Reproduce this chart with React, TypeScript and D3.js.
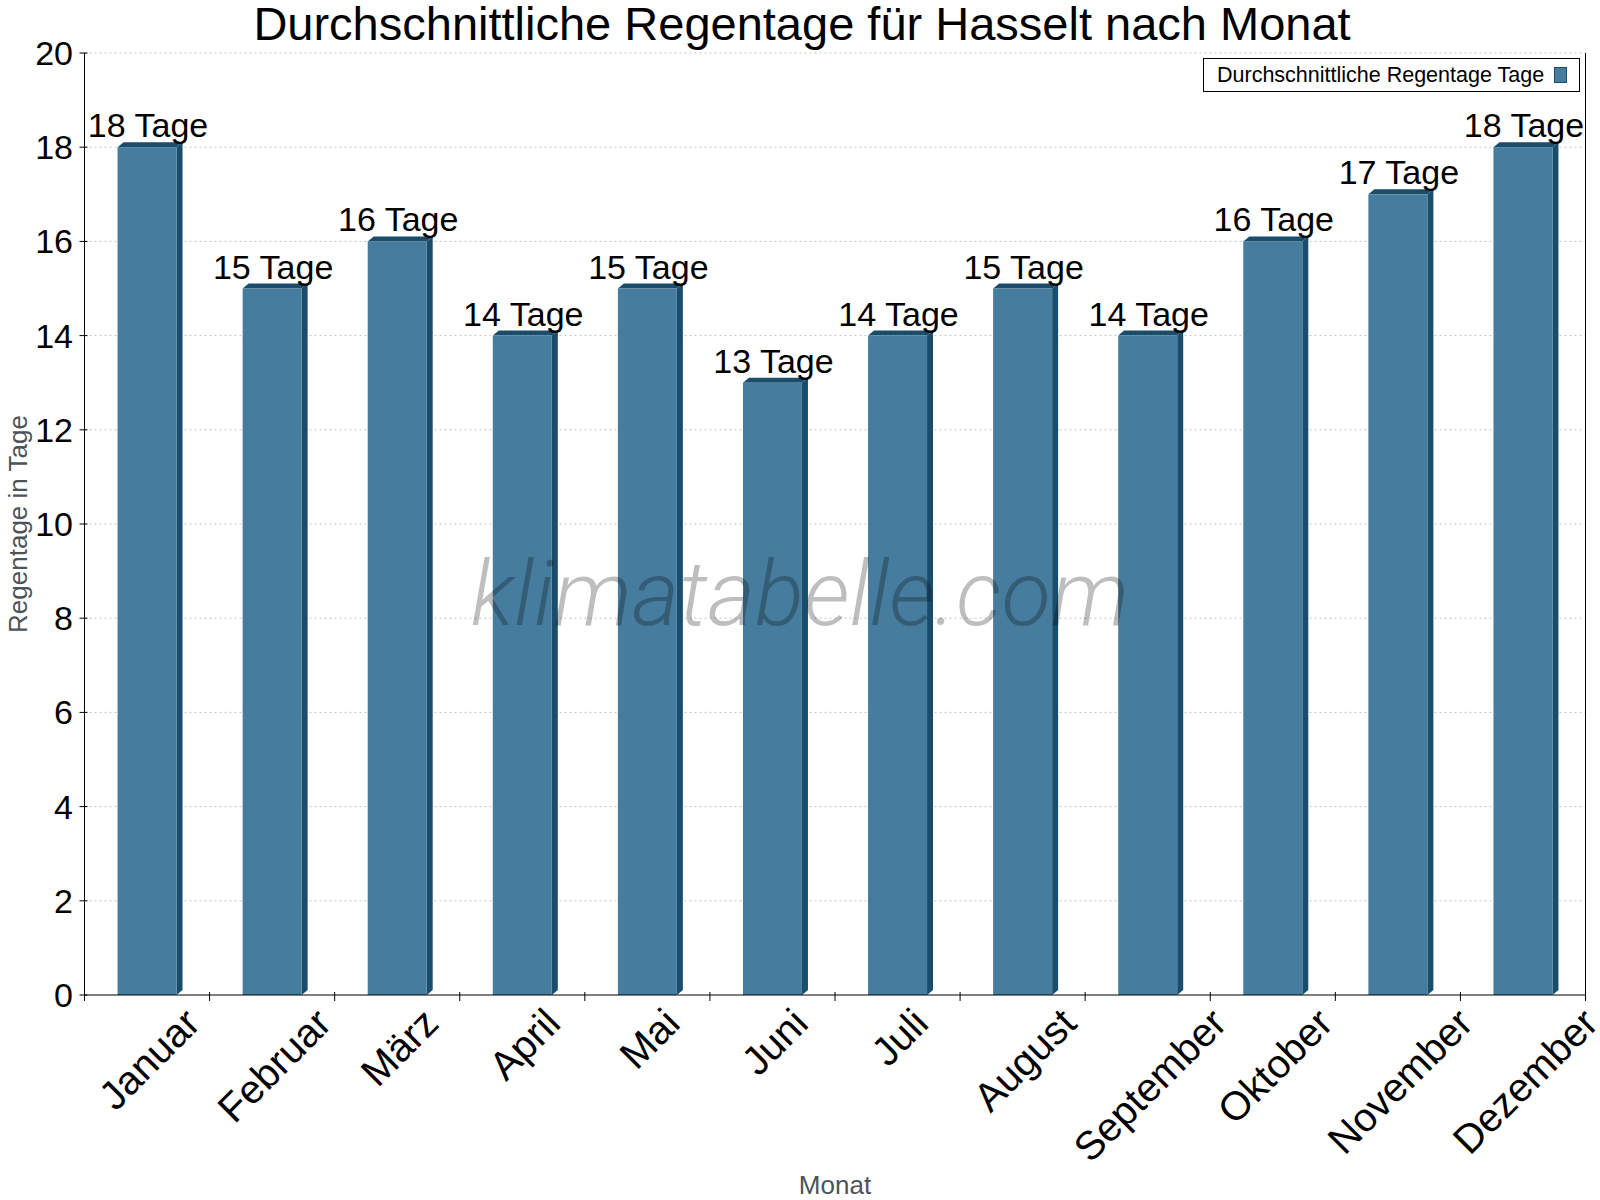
import React from 'react';
import * as d3 from 'd3';

const months = ['Januar', 'Februar', 'März', 'April', 'Mai', 'Juni', 'Juli', 'August', 'September', 'Oktober', 'November', 'Dezember'];
const rainDays = [18, 15, 16, 14, 15, 13, 14, 15, 14, 16, 17, 18];
const yTicks = [0, 2, 4, 6, 8, 10, 12, 14, 16, 18, 20];

const title = 'Durchschnittliche Regentage für Hasselt nach Monat';
const legendLabel = 'Durchschnittliche Regentage Tage';
const unit = 'Tage';

const FONT = "'Liberation Sans', Arial, sans-serif";
const front = '#467c9e';
const dark = '#1a4c6c';

// rough text width for the rotated month labels
const measure = (txt: string, size: number) => {
  const ctx = document.createElement('canvas').getContext('2d');
  if (!ctx) return txt.length * size * 0.55;
  ctx.font = `${size}px 'Liberation Sans', Arial, sans-serif`;
  return ctx.measureText(txt).width;
};

export default function App() {
  const width = 1600;
  const height = 1200;
  const left = 84.5;
  const right = 1585.5;
  const top = 53;
  const bottom = 995;

  const x = d3.scaleBand<string>().domain(months).range([left, right]).padding(0);
  const y = d3.scaleLinear().domain([0, 20]).range([bottom, top]);

  const barW = 59;
  const dx = 6;
  const dy = 5;
  const labelSize = 40;

  return (
    <div style={{ position: 'absolute', left: 0, top: 0 }}>
      <svg width={width} height={height} style={{ display: 'block', background: '#fff' }} fontFamily={FONT}>
        {/* grid */}
        {yTicks.filter(t => t > 0).map(t => (
          <line key={'g' + t} x1={left} x2={right} y1={y(t)} y2={y(t)}
            stroke="#c4c4c4" strokeWidth={1} strokeDasharray="2,3" />
        ))}

        {/* bars */}
        {rainDays.map((v, i) => {
          const cx = (x(months[i]) ?? 0) + x.bandwidth() / 2;
          const x0 = cx - barW / 2;
          const x1 = x0 + barW;
          const yt = y(v);
          return (
            <g key={'b' + i}>
              <polygon points={`${x0},${yt} ${x0 + dx},${yt - dy} ${x1 + dx},${yt - dy} ${x1},${yt}`} fill={dark} />
              <polygon points={`${x1},${yt} ${x1 + dx},${yt - dy} ${x1 + dx},${bottom - dy} ${x1},${bottom}`} fill={dark} />
              <rect x={x0} y={yt} width={barW} height={bottom - yt} fill={front} />
              <text x={cx + 1} y={yt - 10} textAnchor="middle" fontSize={34} fill="#000">{`${v} ${unit}`}</text>
            </g>
          );
        })}

        {/* axes */}
        <line x1={left} x2={left} y1={top} y2={bottom} stroke="#000" />
        <line x1={right} x2={right} y1={top} y2={bottom} stroke="#000" />
        <line x1={left} x2={right} y1={bottom} y2={bottom} stroke="#000" />
        {yTicks.map(t => (
          <g key={'yt' + t}>
            <line x1={left - 5} x2={left + 3} y1={y(t)} y2={y(t)} stroke="#000" />
            <text x={73} y={y(t)} textAnchor="end" dominantBaseline="central" fontSize={34} fill="#000">{t}</text>
          </g>
        ))}
        {d3.range(months.length + 1).map(k => {
          const xx = left + k * x.bandwidth();
          return <line key={'xt' + k} x1={xx} x2={xx} y1={bottom - 3} y2={bottom + 6} stroke="#000" />;
        })}
        {months.map(m => {
          const cx = (x(m) ?? 0) + x.bandwidth() / 2;
          const L = measure(m, labelSize);
          const h = labelSize * 1.117;
          const half = ((L + h) * Math.SQRT1_2) / 2;
          return (
            <text key={'xl' + m} transform={`translate(${cx + 2},${1000 + half}) rotate(-45)`}
              textAnchor="middle" dominantBaseline="central" fontSize={labelSize} fill="#000">{m}</text>
          );
        })}

        {/* axis titles */}
        <text transform={`translate(27,${(top + bottom) / 2}) rotate(-90)`} textAnchor="middle" fontSize={26} fill="#4d535a">Regentage in Tage</text>
        <text x={(left + right) / 2} y={1194} textAnchor="middle" fontSize={26} fill="#4d535a">Monat</text>

        {/* title */}
        <text x={802} y={40} textAnchor="middle" fontSize={47} fill="#000">{title}</text>

        {/* legend */}
        <rect x={1203.5} y={58.5} width={376} height={33} fill="#fff" stroke="#000" />
        <text x={1217} y={82} fontSize={21.5} fill="#000">{legendLabel}</text>
        <rect x={1554.5} y={67.5} width={12} height={15} fill={front} stroke={dark} />

        {/* watermark */}
        <text x={800} y={625} textAnchor="middle" fontSize={91} fontStyle="italic" fontWeight={300}
          fontFamily="'Roboto Light', Roboto, 'Liberation Sans', sans-serif" fill="#000" opacity={0.25}>klimatabelle.com</text>
      </svg>
    </div>
  );
}
